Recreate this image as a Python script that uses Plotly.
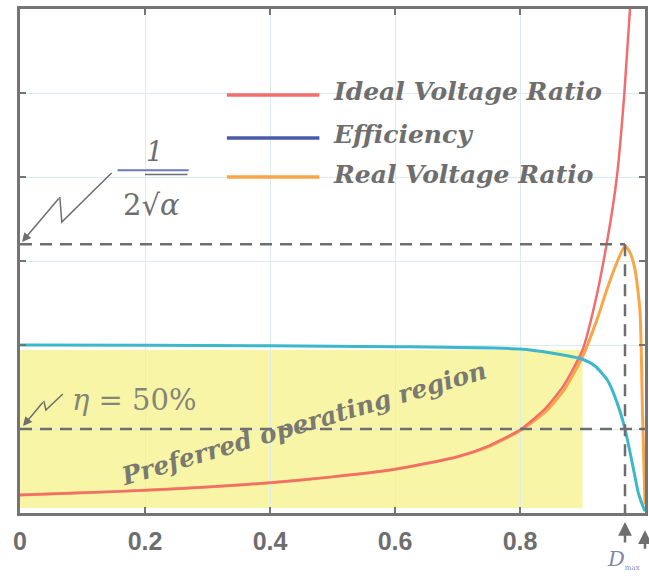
import plotly.graph_objects as go

# ---------------- data ----------------
D_ideal = [0.0, 0.1, 0.2, 0.3, 0.4, 0.5, 0.6, 0.7, 0.75, 0.8, 0.84, 0.87, 0.9, 0.92, 0.94, 0.955, 0.967, 0.976]
M_ideal = [1.07, 1.2, 1.35, 1.55, 1.8, 2.15, 2.6, 3.35, 4.0, 4.95, 6.2, 7.6, 9.7, 12.5, 16.3, 20.0, 25.0, 30.0]

D_real = [0.0, 0.1, 0.2, 0.3, 0.4, 0.5, 0.6, 0.7, 0.75, 0.8, 0.84, 0.87, 0.9, 0.924, 0.939, 0.955, 0.968, 0.976, 0.984, 0.992, 0.996, 1.0]
M_real = [1.07, 1.2, 1.35, 1.55, 1.8, 2.15, 2.6, 3.35, 3.95, 4.9, 6.0, 7.3, 9.3, 11.6, 13.3, 14.9, 15.9, 15.5, 14.5, 12.0, 6.0, 0.5]

D_eff = [0.0, 0.2, 0.4, 0.6, 0.8, 0.85, 0.9, 0.92, 0.94, 0.955, 0.968, 0.98, 0.99, 1.0]
eta = [1.0, 0.998, 0.995, 0.99, 0.976, 0.952, 0.915, 0.875, 0.79, 0.66, 0.5, 0.29, 0.11, 0.01]

x_ticks = [0, 0.2, 0.4, 0.6, 0.8]
x_tick_labels = ["0", "0.2", "0.4", "0.6", "0.8"]
y_grid = [5, 10, 15, 20, 25]

peak_ratio = 16.0      # 1/(2*sqrt(alpha))
D_max = 0.968
eta_ref = 0.5
region_D = [0.0, 0.9]
region_M = [0.3, 9.7]

legend_names = ["Ideal Voltage Ratio", "Efficiency", "Real Voltage Ratio"]

# ---------------- styles ----------------
RED = "#f26d6d"
CYAN = "#3db7cb"
ORANGE = "#f9a64a"
LEG_BLUE = "#4a5aa8"
GRAY = "#6e6e6e"
AXIS = "#747474"
GRID = "#dbecef"
YELLOW = "#f9f5a6"
SERIF = "DejaVu Serif"

fig = go.Figure()

fig.add_trace(go.Scatter(x=D_real, y=M_real, mode="lines", line=dict(color=ORANGE, width=3, shape="spline", smoothing=0.6),
                         name=legend_names[2], showlegend=False, cliponaxis=True))
fig.add_trace(go.Scatter(x=D_ideal, y=M_ideal, mode="lines", line=dict(color=RED, width=2.5, shape="spline", smoothing=0.6),
                         name=legend_names[0], showlegend=False, cliponaxis=True))
fig.add_trace(go.Scatter(x=D_eff, y=eta, mode="lines", line=dict(color=CYAN, width=3, shape="spline", smoothing=0.6),
                         name=legend_names[1], yaxis="y2", showlegend=False, cliponaxis=True))

shapes = []
# preferred operating region
shapes.append(dict(type="rect", xref="x", yref="y", x0=region_D[0], x1=region_D[1], y0=region_M[0], y1=region_M[1],
                   fillcolor=YELLOW, line=dict(width=0), layer="below"))
dash = dict(color=GRAY, width=2.5, dash="12px,8px")
shapes.append(dict(type="line", xref="x", yref="y", x0=0, x1=D_max, y0=peak_ratio, y1=peak_ratio, line=dash))
shapes.append(dict(type="line", xref="x", yref="y", x0=D_max, x1=D_max, y0=peak_ratio, y1=0, line=dash))
shapes.append(dict(type="line", xref="x", yref="y2", x0=0, x1=1.0, y0=eta_ref, y1=eta_ref, line=dash))

# legend swatches
leg_y = [24.88, 22.32, 20.0]
leg_cols = [RED, LEG_BLUE, ORANGE]
for yy, cc in zip(leg_y, leg_cols):
    shapes.append(dict(type="line", xref="x", yref="y", x0=0.331, x1=0.479, y0=yy, y1=yy, line=dict(color=cc, width=3.5)))

# fraction bar and sqrt overline
shapes.append(dict(type="line", xref="x", yref="y", x0=0.156, x1=0.27, y0=20.4, y1=20.4, line=dict(color="#6f7bb5", width=2)))
shapes.append(dict(type="line", xref="x", yref="y", x0=0.2, x1=0.268, y0=20.15, y1=20.15, line=dict(color=GRAY, width=1.5)))

# zigzag leader lines
shapes.append(dict(type="path", xref="x", yref="y", path="M 0.1465 20.24 L 0.0669 17.32 L 0.0637 18.81",
                   line=dict(color=GRAY, width=1.5)))
shapes.append(dict(type="path", xref="x", yref="y", path="M 0.0685 7.08 L 0.0414 6.13 L 0.0382 6.67",
                   line=dict(color=GRAY, width=1.5)))

annotations = []
tf = dict(family=SERIF, size=25, color=GRAY, style="italic", weight="bold")
leg_text_y = [25.06, 22.55, 20.12]
for name, yy in zip(legend_names, leg_text_y):
    annotations.append(dict(x=0.498, y=yy, xref="x", yref="y", text=name, showarrow=False,
                            xanchor="left", yanchor="middle", font=tf))

annotations.append(dict(x=0.215, y=21.5, xref="x", yref="y", text="<i>1</i>", showarrow=False,
                        font=dict(family=SERIF, size=27, color=GRAY), xanchor="center", yanchor="middle"))
annotations.append(dict(x=0.211, y=18.35, xref="x", yref="y", text="2√<i>α</i>", showarrow=False,
                        font=dict(family=SERIF, size=29, color=GRAY), xanchor="center", yanchor="middle"))
annotations.append(dict(x=0.0032, y=16.13, xref="x", yref="y", ax=38, ay=-45, text="", showarrow=True,
                        arrowhead=2, arrowsize=1.2, arrowwidth=1.5, arrowcolor=GRAY))

annotations.append(dict(x=0.183, y=6.73, xref="x", yref="y", text="<i>η</i> = 50%", showarrow=False,
                        font=dict(family=SERIF, size=29, color="#85857a"), xanchor="center", yanchor="middle"))
annotations.append(dict(x=0.0048, y=5.18, xref="x", yref="y", ax=21, ay=-25, text="", showarrow=True,
                        arrowhead=2, arrowsize=1.2, arrowwidth=1.5, arrowcolor=GRAY))

annotations.append(dict(x=0.454, y=5.3, xref="x", yref="y", text="Preferred operating region", showarrow=False,
                        textangle=-16.5, font=dict(family=SERIF, size=25, color="#7a7a72", style="italic", weight="bold"),
                        xanchor="center", yanchor="middle"))

# D_max marker below the axis
annotations.append(dict(x=D_max, y=-0.018, xref="x", yref="paper", ax=0, ay=22, text="", showarrow=True,
                        arrowhead=2, arrowsize=1.1, arrowwidth=2.5, arrowcolor=GRAY))
annotations.append(dict(x=1.0, y=-0.034, xref="x", yref="paper", ax=0, ay=20, text="", showarrow=True,
                        arrowhead=2, arrowsize=1.1, arrowwidth=2.5, arrowcolor=GRAY))
annotations.append(dict(x=0.936, y=-0.092, xref="x", yref="paper",
                        text="<i>D</i><sub><span style='font-size:7px'>max</span></sub>", showarrow=False,
                        font=dict(family=SERIF, size=21, color="#8088a8"), xanchor="left", yanchor="middle"))

fig.update_layout(
    width=649, height=578,
    margin=dict(l=20, r=1, t=9, b=65, pad=0),
    paper_bgcolor="white", plot_bgcolor="white",
    showlegend=False,
    shapes=shapes, annotations=annotations,
    xaxis=dict(range=[0, 1.0], tickvals=x_ticks, ticktext=x_tick_labels, ticks="inside", ticklen=6, tickwidth=2,
               tickcolor=AXIS, showline=True, linewidth=3, linecolor=AXIS, mirror="ticks",
               showgrid=True, gridcolor=GRID, gridwidth=1, zeroline=False, ticklabelstandoff=4,
               tickfont=dict(family="Liberation Sans", size=25, color=GRAY, weight="bold")),
    yaxis=dict(range=[0, 30], tickvals=y_grid, showticklabels=False, ticks="inside", ticklen=6, tickwidth=2,
               tickcolor=AXIS, showline=True, linewidth=3, linecolor=AXIS, mirror="ticks",
               showgrid=True, gridcolor=GRID, gridwidth=1, zeroline=False),
    yaxis2=dict(range=[0, 3.0], overlaying="y", visible=False),
)

fig.write_html("out.html", config={"displayModeBar": False},
               post_script="document.body.style.margin='0';")
